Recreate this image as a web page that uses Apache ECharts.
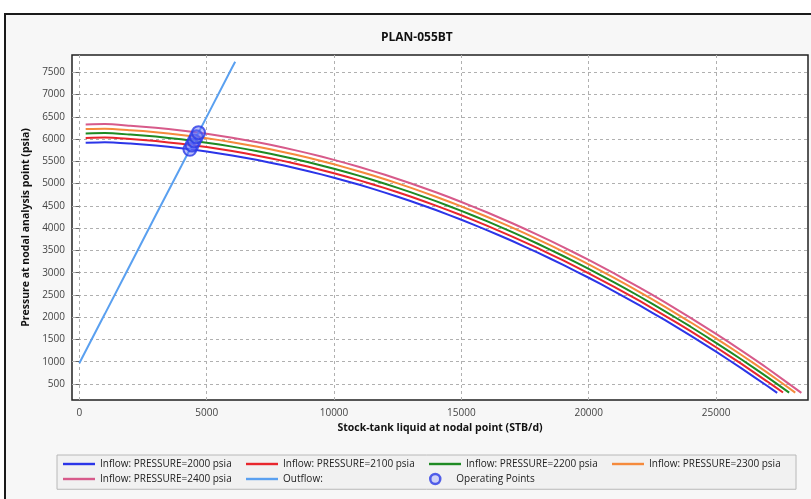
<!DOCTYPE html>
<html>
<head>
<meta charset="utf-8">
<script src="https://cdn.jsdelivr.net/npm/echarts@6/dist/echarts.min.js"></script>
<style>
  html, body { margin: 0; padding: 0; background: #ffffff; }
  #chart { width: 811px; height: 499px; }
</style>
</head>
<body>
<div id="chart"></div>
<script>
// Nodal analysis for well PLAN-055BT: inflow (IPR) curves for five reservoir pressures,
// the outflow (tubing) curve and the resulting operating points.

// Liquid rates (STB/d) shared by the inflow curves
const inflowRates = [250, 1000, 2000, 3000, 4000, 5000, 6000, 7000, 8000, 9000, 10000,
  11000, 12000, 13000, 14000, 15000, 16000, 17000, 18000, 19000, 20000,
  21000, 22000, 23000, 24000, 25000, 26000, 27000];

// Pressure at nodal point (psia) for each inflow curve
const inflow2000 = [5920, 5932, 5901, 5856, 5795, 5721, 5632, 5529, 5412, 5280, 5134,
  4974, 4799, 4610, 4407, 4189, 3957, 3711, 3450, 3175, 2886,
  2582, 2265, 1932, 1586, 1225, 850, 460];
const inflow2100 = [6028, 6035, 6002, 5957, 5895, 5821, 5732, 5629, 5512, 5380, 5234,
  5074, 4899, 4710, 4507, 4289, 4057, 3811, 3550, 3275, 2986,
  2682, 2365, 2032, 1686, 1325, 950, 560];
const inflow2200 = [6128, 6136, 6102, 6057, 5995, 5921, 5832, 5729, 5612, 5480, 5334,
  5174, 4999, 4810, 4607, 4389, 4157, 3911, 3650, 3375, 3086,
  2782, 2465, 2132, 1786, 1425, 1050, 660];
const inflow2300 = [6226, 6236, 6202, 6157, 6095, 6021, 5932, 5829, 5712, 5580, 5434,
  5274, 5099, 4910, 4707, 4489, 4257, 4011, 3750, 3475, 3186,
  2882, 2565, 2232, 1886, 1525, 1150, 760];
const inflow2400 = [6330, 6338, 6302, 6257, 6195, 6121, 6032, 5929, 5812, 5680, 5534,
  5374, 5199, 5010, 4807, 4589, 4357, 4111, 3850, 3575, 3286,
  2982, 2665, 2332, 1986, 1625, 1250, 860];

// Last point of each inflow curve: [rate, pressure]
const inflowEnds = [[27400, 300], [27630, 308], [27870, 305], [28110, 305], [28350, 300]];

// Outflow curve
const outflowRates = [0, 1000, 2000, 3000, 4000, 5000, 6000, 6120];
const outflowPressures = [965, 2070, 3180, 4290, 5390, 6500, 7610, 7740];

// Operating points (intersection of outflow with each inflow curve)
const opRates = [4342, 4427, 4511, 4596, 4680];
const opPressures = [5772, 5866, 5959, 6053, 6146];

// Tick labels
const xTicks = [0, 5000, 10000, 15000, 20000, 25000];
const yTicks = [500, 1000, 1500, 2000, 2500, 3000, 3500, 4000, 4500, 5000, 5500, 6000, 6500, 7000, 7500];

const inflowNames = ['Inflow: PRESSURE=2000 psia', 'Inflow: PRESSURE=2100 psia',
  'Inflow: PRESSURE=2200 psia', 'Inflow: PRESSURE=2300 psia', 'Inflow: PRESSURE=2400 psia'];
const inflowSets = [inflow2000, inflow2100, inflow2200, inflow2300, inflow2400];
const inflowColors = ['#2b35e8', '#e8262d', '#1e8a23', '#f58a3c', '#d75a8a'];
const outflowColor = '#5aa0f0';

const FONT = '"Open Sans", "Noto Sans", sans-serif';
// Thin horizontal bar used as the legend swatch of a line series
const LINE_ICON = 'path://M0,0L32,0L32,2.4L0,2.4Z';

function pairs(xs, ys) {
  return xs.map((x, i) => [x, ys[i]]);
}

const series = inflowSets.map((vals, k) => ({
  name: inflowNames[k],
  type: 'line',
  data: pairs(inflowRates, vals).concat([inflowEnds[k]]),
  symbol: 'none',
  smooth: 0.2,
  lineStyle: { color: inflowColors[k], width: 2 },
  itemStyle: { color: inflowColors[k] },
  z: 2
}));

series.push({
  name: 'Outflow:',
  type: 'line',
  data: pairs(outflowRates, outflowPressures),
  symbol: 'none',
  lineStyle: { color: outflowColor, width: 2 },
  itemStyle: { color: outflowColor },
  z: 3
});

series.push({
  name: 'Operating Points',
  type: 'scatter',
  data: pairs(opRates, opPressures),
  symbol: 'circle',
  symbolSize: 13,
  itemStyle: { color: 'rgba(100,110,245,0.55)', borderColor: '#2b3be6', borderWidth: 2 },
  z: 4
});

const legendItems = inflowNames.map((name, k) => ({
  name: name,
  icon: LINE_ICON,
  itemStyle: { color: inflowColors[k], borderWidth: 0 }
})).concat([{
  name: 'Outflow:',
  icon: LINE_ICON,
  itemStyle: { color: outflowColor, borderWidth: 0 }
}, {
  name: 'Operating Points',
  icon: 'circle',
  itemStyle: { color: 'rgba(170,175,250,0.6)', borderColor: '#2b3be6', borderWidth: 2.5 }
}]);

const plainNumber = v => String(v);

const chart = echarts.init(document.getElementById('chart'), null, { renderer: 'canvas' });

chart.setOption({
  animation: false,
  backgroundColor: '#ffffff',
  graphic: [{
    type: 'rect',
    z: -100,
    silent: true,
    shape: { x: 5, y: 14, width: 900, height: 600 },
    style: { fill: '#f7f7f7', stroke: '#1a1a1a', lineWidth: 2 }
  }],
  title: {
    text: 'PLAN-055BT',
    left: 376,
    top: 27,
    textStyle: { fontFamily: FONT, fontSize: 12, fontWeight: 'bold', color: '#111' }
  },
  grid: {
    left: 72, right: 3, top: 55, bottom: 99,
    show: true,
    backgroundColor: '#ffffff',
    borderColor: '#222',
    borderWidth: 1.5
  },
  xAxis: {
    type: 'value',
    min: -287,
    max: 28610,
    name: 'Stock-tank liquid at nodal point (STB/d)',
    nameLocation: 'middle',
    nameGap: 17,
    nameTextStyle: { fontFamily: FONT, fontSize: 10.5, fontWeight: 'bold', color: '#111' },
    axisLine: { show: false },
    axisTick: { show: false, customValues: xTicks },
    axisLabel: { customValues: xTicks, formatter: plainNumber, fontFamily: FONT, fontSize: 10, color: '#444', margin: 8 },
    splitLine: { show: true, lineStyle: { color: '#b0b0b0', type: [3, 3], width: 1 } }
  },
  yAxis: {
    type: 'value',
    min: 140,
    max: 7890,
    name: 'Pressure at nodal analysis point (psia)',
    nameLocation: 'middle',
    nameGap: 31,
    nameTextStyle: { fontFamily: FONT, fontSize: 10.5, fontWeight: 'bold', color: '#111' },
    axisLine: { show: false },
    axisTick: { show: true, length: 4, inside: false, customValues: yTicks, lineStyle: { color: '#666' } },
    axisLabel: { customValues: yTicks, formatter: plainNumber, fontFamily: FONT, fontSize: 10, color: '#444', margin: 7 },
    splitLine: { show: true, lineStyle: { color: '#b0b0b0', type: [3, 3], width: 1 } }
  },
  legend: {
    left: 57,
    top: 455,
    width: 745,
    orient: 'horizontal',
    padding: [4, 6],
    itemGap: 5,
    itemWidth: 32,
    itemHeight: 10,
    backgroundColor: '#f1f1f1',
    borderColor: '#b8b8b8',
    borderWidth: 1,
    textStyle: { fontFamily: FONT, fontSize: 10, color: '#222', width: 141, lineHeight: 10 },
    data: legendItems
  },
  series: series
});
</script>
</body>
</html>
